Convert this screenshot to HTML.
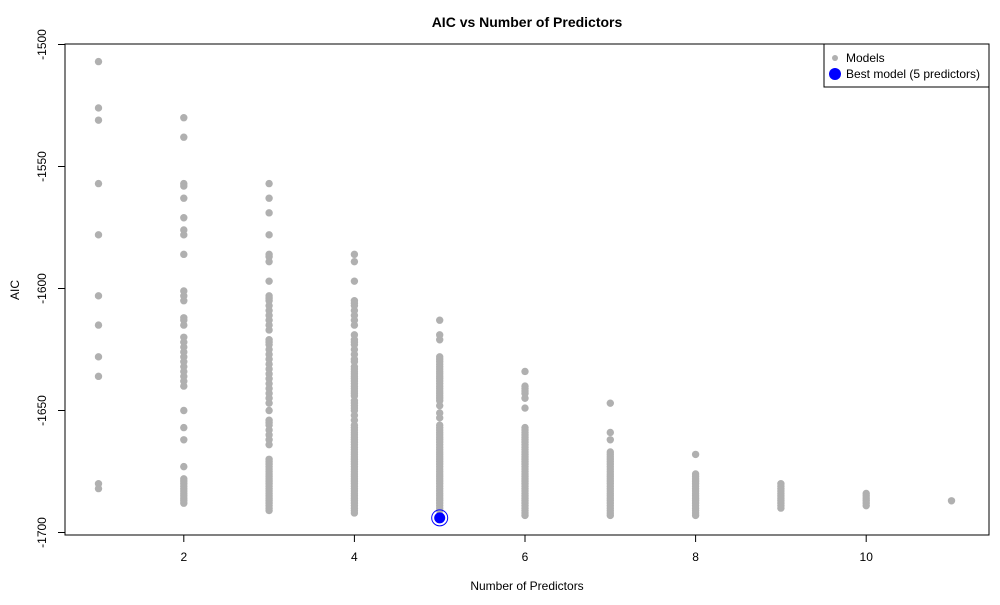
<!DOCTYPE html>
<html><head><meta charset="utf-8"><style>
body{margin:0;background:#fff;}
svg text{font-family:"Liberation Sans",Arial,sans-serif;}
</style></head><body>
<svg id="chart" width="1000" height="600" xmlns="http://www.w3.org/2000/svg">
<text x="527" y="27" text-anchor="middle" font-size="14" font-weight="bold">AIC vs Number of Predictors</text>
<text x="527" y="590" text-anchor="middle" font-size="12">Number of Predictors</text>
<text transform="translate(19,290) rotate(-90)" text-anchor="middle" font-size="12">AIC</text>
<g id="axes"></g>
<g id="points"></g>
<rect x="65" y="44" width="924" height="491" fill="none" stroke="#000" stroke-width="1"/>
<g>
<rect x="824" y="44" width="165" height="43" fill="#fff" stroke="#000" stroke-width="1"/>
<circle cx="835" cy="58" r="3" fill="#b0b0b0"/>
<text x="846" y="62" font-size="12">Models</text>
<circle cx="835" cy="74" r="6" fill="#0000ff"/>
<text x="846" y="78" font-size="12">Best model (5 predictors)</text>
</g>
</svg>
<script>
const xTicks = [2, 4, 6, 8, 10];
const yTicks = [-1500, -1550, -1600, -1650, -1700];
const aic1 = [-1507,-1526,-1531,-1557,-1578,-1603,-1615,-1628,-1636,-1680,-1682];
const aic2 = [-1530,-1538,-1557,-1558,-1563,-1571,-1576,-1578,-1586,-1601,-1603,-1605,-1612,-1613,-1615,-1620,-1622,-1624,-1626,-1628,-1630,-1632,-1634,-1636,-1638,-1640,-1650,-1657,-1662,-1673,-1678,-1679,-1680,-1681,-1682,-1683,-1684,-1685,-1686,-1687,-1688];
const aic3 = [-1557,-1563,-1569,-1578,-1586,-1587,-1589,-1597,-1603,-1604,-1605,-1607,-1609,-1611,-1613,-1615,-1617,-1621,-1622,-1623,-1625,-1627,-1629,-1631,-1633,-1635,-1637,-1639,-1641,-1643,-1645,-1647,-1650,-1654,-1655,-1656,-1658,-1660,-1662,-1664,-1670,-1671,-1672,-1673,-1674,-1675,-1676,-1677,-1678,-1679,-1680,-1681,-1682,-1683,-1684,-1685,-1686,-1687,-1688,-1689,-1690,-1691];
const aic4 = [-1586,-1589,-1597,-1605,-1606,-1607,-1609,-1611,-1613,-1615,-1619,-1621,-1622,-1623,-1625,-1627,-1629,-1630,-1632,-1633,-1634,-1635,-1636,-1637,-1638,-1639,-1640,-1641,-1642,-1643,-1644,-1646,-1647,-1648,-1649,-1650,-1652,-1654,-1656,-1657,-1658,-1659,-1660,-1661,-1662,-1663,-1664,-1665,-1666,-1667,-1668,-1669,-1670,-1671,-1672,-1673,-1674,-1675,-1676,-1677,-1678,-1679,-1680,-1681,-1682,-1683,-1684,-1685,-1686,-1687,-1688,-1689,-1690,-1691,-1692];
const aic5 = [-1613,-1619,-1621,-1628,-1629,-1630,-1631,-1632,-1633,-1634,-1635,-1636,-1637,-1638,-1639,-1640,-1641,-1642,-1643,-1644,-1645,-1646,-1648,-1651,-1653,-1656,-1657,-1658,-1659,-1660,-1661,-1662,-1663,-1664,-1665,-1666,-1667,-1668,-1669,-1670,-1671,-1672,-1673,-1674,-1675,-1676,-1677,-1678,-1679,-1680,-1681,-1682,-1683,-1684,-1685,-1686,-1687,-1688,-1689,-1690,-1691];
const aic6 = [-1634,-1640,-1641,-1642,-1643,-1645,-1649,-1657,-1658,-1659,-1660,-1661,-1662,-1663,-1664,-1665,-1666,-1667,-1668,-1669,-1670,-1671,-1672,-1673,-1674,-1675,-1676,-1677,-1678,-1679,-1680,-1681,-1682,-1683,-1684,-1685,-1686,-1687,-1688,-1689,-1690,-1691,-1692,-1693];
const aic7 = [-1647,-1659,-1662,-1667,-1668,-1669,-1670,-1671,-1672,-1673,-1674,-1675,-1676,-1677,-1678,-1679,-1680,-1681,-1682,-1683,-1684,-1685,-1686,-1687,-1688,-1689,-1690,-1691,-1692,-1693];
const aic8 = [-1668,-1676,-1677,-1678,-1679,-1680,-1681,-1682,-1683,-1684,-1685,-1686,-1687,-1688,-1689,-1690,-1691,-1692,-1693];
const aic9 = [-1680,-1681,-1682,-1683,-1684,-1685,-1686,-1687,-1688,-1689,-1690];
const aic10 = [-1684,-1685,-1686,-1687,-1688,-1689];
const aic11 = [-1687];
const groups = [aic1, aic2, aic3, aic4, aic5, aic6, aic7, aic8, aic9, aic10, aic11];
const predictors = [1,2,3,4,5,6,7,8,9,10,11];
const bestPredictors = 5;
const bestAic = -1694;

const NS = "http://www.w3.org/2000/svg";
function xScale(v){ return 98.5 + (v - 1) * 85.3; }
function yScale(v){ return 44.5 + (-1500 - v) * 2.44; }
function mk(tag, attrs, parent){ const e = document.createElementNS(NS, tag); for (const k in attrs) e.setAttribute(k, attrs[k]); parent.appendChild(e); return e; }

const axes = document.getElementById('axes');
let xl = mk('line', {x1: xScale(xTicks[0]), x2: xScale(xTicks[xTicks.length-1]), y1: 535, y2: 535, stroke: '#000'}, axes);


xTicks.forEach(t => {
  const tk = mk('line', {x1: xScale(t), x2: xScale(t), y1: 535, y2: 542, stroke: '#000'}, axes);
  
  
  const lb = mk('text', {x: xScale(t), y: 561, 'text-anchor': 'middle', 'font-size': 12}, axes);
  lb.textContent = t;
  
  
});
yTicks.forEach(t => {
  const y = yScale(t);
  const tk = mk('line', {x1: 58, x2: 65, y1: y, y2: y, stroke: '#000'}, axes);
  
  
  const lb = mk('text', {transform: 'translate(46,' + y + ') rotate(-90)', 'text-anchor': 'middle', 'font-size': 12}, axes);
  lb.textContent = t;
  
  
});

const pts = document.getElementById('points');
groups.forEach((g, i) => {
  g.forEach(v => {
    const c = mk('circle', {cx: xScale(predictors[i]), cy: yScale(v), r: 3.7, fill: '#b0b0b0'}, pts);
    
    
  });
});
const ring = mk('circle', {cx: xScale(bestPredictors), cy: yScale(bestAic), r: 8, fill: 'none', stroke: '#0000ff', 'stroke-width': 1}, pts);


const best = mk('circle', {cx: xScale(bestPredictors), cy: yScale(bestAic), r: 5.5, fill: '#0000ff'}, pts);


</script>
</body></html>
